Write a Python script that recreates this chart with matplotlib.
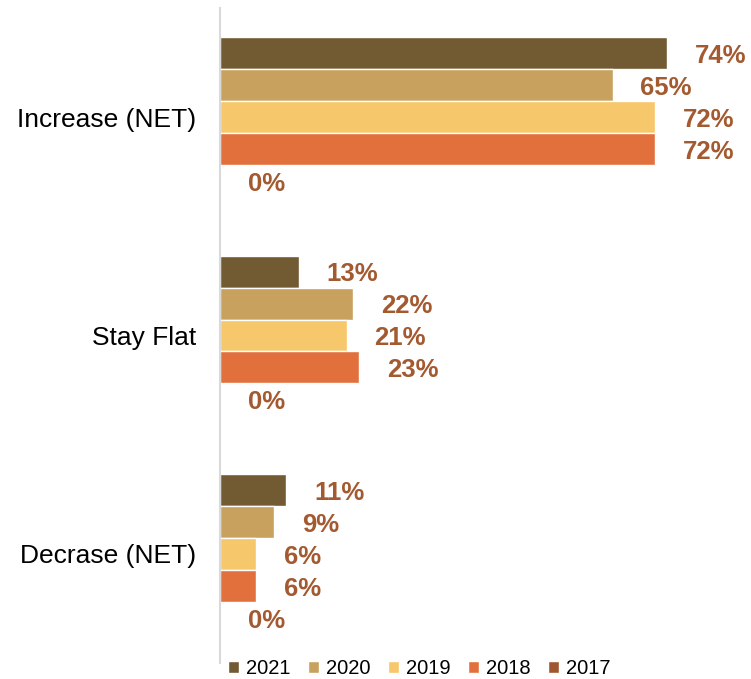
import numpy as np
import matplotlib.pyplot as plt

categories = ['Increase (NET)', 'Stay Flat', 'Decrase (NET)']
years = ['2021', '2020', '2019', '2018', '2017']
values = {
    '2021': [74, 13, 11],
    '2020': [65, 22, 9],
    '2019': [72, 21, 6],
    '2018': [72, 23, 6],
    '2017': [0, 0, 0],
}
colors = ['#725A32', '#C9A15E', '#F7C76B', '#E2703D', '#A0572F']
label_color = '#A35A30'

plt.rcParams['font.family'] = ['Liberation Sans', 'DejaVu Sans']

fig = plt.figure(figsize=(7.51, 6.79), dpi=100)
ax = fig.add_axes([220 / 751, 16 / 679, 531 / 751, 655 / 679])

h = 0.1465
y = np.arange(len(categories))
for i, yr in enumerate(years):
    pos = y + (i - 2) * h
    ax.barh(pos, values[yr], height=h, color=colors[i], edgecolor='white',
            linewidth=1.0, label=yr)
    for p, v in zip(pos, values[yr]):
        ax.annotate(f'{v}%', (v, p), xytext=(20, -2), textcoords='offset points',
                    ha='left', va='center', fontsize=18.5, fontweight='bold',
                    color=label_color)

ax.set_xlim(0, 531 / 6.04)
ax.set_ylim(2.5, -0.5)
ax.set_yticks(y)
ax.set_yticklabels(categories, fontsize=19)
ax.tick_params(axis='y', length=0, pad=17)
ax.set_xticks([])
for s in ['top', 'right', 'bottom']:
    ax.spines[s].set_visible(False)
ax.spines['left'].set_color('#D9D9D9')
ax.spines['left'].set_linewidth(1.5)

ax.legend(loc='center left', bbox_to_anchor=(228 / 751, 1 - 669 / 679),
          bbox_transform=fig.transFigure, ncol=5, frameon=False,
          fontsize=14.5, handlelength=0.55, handleheight=0.55, handletextpad=0.35,
          columnspacing=0.86, borderaxespad=0.0, borderpad=0.0)

fig.savefig('out.png', dpi=100)
